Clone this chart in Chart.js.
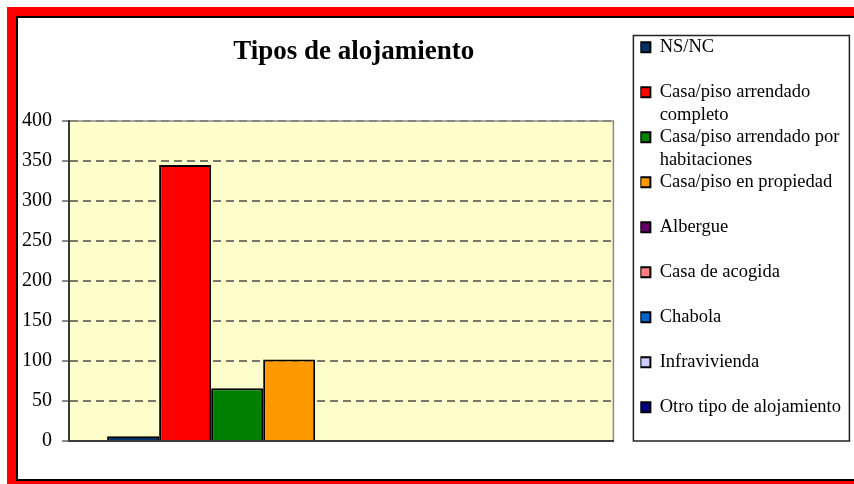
<!DOCTYPE html>
<html>
<head>
<meta charset="utf-8">
<title>Tipos de alojamiento</title>
<script src="https://cdn.jsdelivr.net/npm/chart.js@4.4.1/dist/chart.umd.min.js"></script>
<style>
  body { margin: 0; background: #fff; }
  canvas { display: block; }
</style>
</head>
<body>
<canvas id="tipos_chart" width="854" height="484"></canvas>
<script>
// data
const categories = [
  "NS/NC",
  "Casa/piso arrendado completo",
  "Casa/piso arrendado por habitaciones",
  "Casa/piso en propiedad",
  "Albergue",
  "Casa de acogida",
  "Chabola",
  "Infravivienda",
  "Otro tipo de alojamiento",
];
const counts = [6, 345, 66, 102, 0, 0, 0, 0, 0];
const yMin = 0;
const yMax = 400;
const yStep = 50;

const colors = ["#003366", "#FF0000", "#008000", "#FF9900", "#660066", "#FF8080", "#0066CC", "#CCCCFF", "#000080"];
const serif = '"Liberation Serif", "Times New Roman", serif';

// split a legend name into two lines like Excel does
function wrapLabel(ctx, text, maxW) {
  let words = text.split(" ");
  let lines = [];
  let cur = "";
  for (let i = 0; i < words.length; i++) {
    let test = cur ? cur + " " + words[i] : words[i];
    if (cur && ctx.measureText(test).width > maxW) {
      lines.push(cur);
      cur = words[i];
    } else {
      cur = test;
    }
  }
  lines.push(cur);
  while (lines.length < 2) lines.push("");
  return lines;
}

const framePlugin = {
  id: "frame",
  afterLayout(chart) {
    // Excel centres the title a bit to the right of the plot
    chart.titleBlock.left = chart.chartArea.left + 25;
  },
  beforeDraw(chart) {
    const ctx = chart.ctx;
    const a = chart.chartArea;
    ctx.save();
    ctx.fillStyle = "#FF0000";
    ctx.fillRect(7, 7, chart.width - 7, chart.height - 7);
    ctx.fillStyle = "#000";
    ctx.fillRect(16, 16, chart.width - 16, 465);
    ctx.fillStyle = "#fff";
    ctx.fillRect(18, 18, chart.width - 18, 461);
    ctx.fillStyle = "#FFFFCC";
    ctx.fillRect(a.left, a.top, a.right - a.left, a.bottom - a.top);
    ctx.restore();
  },
  beforeDatasetsDraw(chart) {
    const ctx = chart.ctx;
    const a = chart.chartArea;
    ctx.save();
    ctx.strokeStyle = "#8a8a8a";
    ctx.lineWidth = 1.5;
    ctx.beginPath();
    ctx.moveTo(a.left, a.top);
    ctx.lineTo(a.right, a.top);
    ctx.lineTo(a.right, a.bottom);
    ctx.stroke();
    ctx.restore();
  },
  afterDraw(chart) {
    const ctx = chart.ctx;
    const lg = chart.legend;
    ctx.save();
    ctx.strokeStyle = "#222";
    ctx.lineWidth = 1.5;
    ctx.strokeRect(lg.left - 7, lg.top - 2.5, 216, 405.5);
    ctx.restore();
  },
};

let tipos_chart = document.getElementById("tipos_chart");
let tiposChart = new Chart(tipos_chart, {
  type: "bar",
  data: {
    labels: [""],
    datasets: categories.map((name, i) => {
      return {
        label: name,
        data: [counts[i]],
        backgroundColor: colors[i],
        borderColor: "#000",
        borderWidth: 2,
        categoryPercentage: 0.86,
        barPercentage: 1.0,
      };
    }),
  },
  options: {
    responsive: false,
    animation: false,
    devicePixelRatio: 1,
    layout: {
      padding: { left: 0, top: 38, right: 3, bottom: 0 },
    },
    plugins: {
      tooltip: { enabled: false },
      title: {
        display: true,
        text: "Tipos de alojamiento",
        fullSize: false,
        color: "#000",
        font: { family: serif, size: 27, weight: "bold", lineHeight: 1 },
        padding: { top: 0.5, bottom: 55.5 },
      },
      legend: {
        display: true,
        position: "right",
        align: "start",
        maxWidth: 260,
        labels: {
          color: "#000",
          font: { family: serif, size: 18.5, lineHeight: "22.5px" },
          boxWidth: 10,
          boxHeight: 10,
          padding: 0,
          generateLabels: (chart) => {
            const items = Chart.defaults.plugins.legend.labels.generateLabels(chart);
            const ctx = chart.ctx;
            ctx.save();
            ctx.font = "18.5px " + serif;
            items.forEach((it) => {
              it.text = wrapLabel(ctx, it.text, 184);
              it.strokeStyle = "#000";
              it.lineWidth = 2;
            });
            ctx.restore();
            return items;
          },
        },
      },
    },
    scales: {
      x: {
        type: "category",
        ticks: { display: false },
        grid: { display: false },
        border: { display: true, color: "#3a3a3a", width: 2, z: 1 },
        afterFit: (scale) => {
          scale.height = 43;
        },
      },
      y: {
        position: "left",
        min: yMin,
        max: yMax,
        ticks: {
          stepSize: yStep,
          color: "#000",
          padding: 10,
          font: { family: serif, size: 20 },
        },
        grid: {
          color: "#77776a",
          lineWidth: 2,
          tickLength: 7,
          tickColor: "#666",
          tickWidth: 1.5,
          tickBorderDash: [],
        },
        border: { display: true, color: "#3a3a3a", width: 2, dash: [8, 5], z: 1 },
        afterFit: (scale) => {
          scale.width = 69;
        },
      },
      y2: {
        // empty spacer between the plot and the legend
        type: "linear",
        position: "right",
        display: true,
        ticks: { display: false },
        grid: { display: false, drawOnChartArea: false },
        border: { display: false },
        afterFit: (scale) => {
          scale.width = 27;
        },
      },
    },
  },
  plugins: [framePlugin],
});
</script>
</body>
</html>
